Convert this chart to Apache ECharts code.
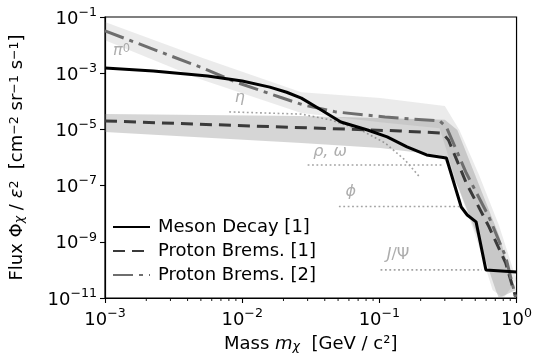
<!DOCTYPE html>
<html><head><meta charset="utf-8">
<script src="https://cdn.jsdelivr.net/npm/echarts@6/dist/echarts.min.js"></script>
<style>html,body{margin:0;padding:0;background:#fff}#c{width:535px;height:360px}</style>
</head><body><div id="c"></div>
<script>
const FONT = 'DejaVu Sans';

// ---- data ----
const seriesNames = ['Meson Decay [1]', 'Proton Brems. [1]', 'Proton Brems. [2]'];

const mesonX = [1e-3, 2.25e-3, 5.6e-3, 1e-2, 1.59e-2, 2.11e-2, 2.7e-2, 3.77e-2, 5.24e-2, 8.2e-2, 0.114, 0.159, 0.221, 0.308, 0.395, 0.437, 0.507, 0.598, 1.0];
const mesonY = [1.53e-3, 1.2e-3, 7.9e-4, 5.3e-4, 3.2e-4, 2.1e-4, 1.3e-4, 4.9e-5, 1.83e-5, 9.5e-6, 5.4e-6, 2.4e-6, 1.23e-6, 9.6e-7, 1.73e-8, 9e-9, 5.1e-9, 1.0e-10, 8.5e-11];

const brems1X = [1e-3, 1.18e-2, 0.1416, 0.288, 0.319, 0.43, 0.63, 0.834, 0.984];
const brems1Y = [2.0e-5, 1.32e-5, 8.8e-6, 7.4e-6, 4.2e-6, 1.24e-7, 3.4e-9, 1.76e-10, 1.09e-11];

const brems2X = [1e-3, 5.15e-3, 8.9e-3, 1.87e-2, 2.79e-2, 4.8e-2, 0.110, 0.275, 0.308, 0.43, 0.63, 0.834, 0.984];
const brems2Y = [3.2e-2, 1.53e-3, 4.9e-4, 1.42e-4, 7.4e-5, 4.2e-5, 2.76e-5, 2.0e-5, 1.22e-5, 2.8e-7, 7.6e-9, 2.9e-10, 1.09e-11];

// uncertainty bands: upper edge and lower edge
const band1UpperX = [1e-3, 0.027, 0.30, 0.37, 0.515, 0.743, 0.984];
const band1UpperY = [3.5e-5, 3.0e-5, 2.2e-5, 9.5e-6, 1.6e-7, 1.75e-9, 1.9e-11];
const band1LowerX = [1e-3, 0.027, 0.1016, 0.275, 0.30, 0.383, 0.515, 0.706, 0.743];
const band1LowerY = [8.1e-6, 3.3e-6, 2.2e-6, 1.2e-6, 8.1e-7, 7e-8, 1.75e-9, 1.9e-11, 1e-11];

const band2UpperX = [1e-3, 5.15e-3, 0.027, 0.1016, 0.30, 0.383, 0.533, 0.743, 1.0];
const band2UpperY = [6.6e-2, 3.5e-3, 2.1e-4, 1.3e-4, 6.8e-5, 9.5e-6, 2.4e-7, 4e-9, 4.4e-11];
const band2LowerX = [1e-3, 5.15e-3, 0.027, 0.1016, 0.275, 0.308, 0.37, 0.50, 0.67, 0.805];
const band2LowerY = [1.5e-2, 5.7e-4, 3.8e-5, 1.8e-5, 1.1e-5, 1.85e-6, 1.05e-7, 1.75e-9, 1.9e-11, 1e-11];

// meson thresholds (dotted guides)
const etaX = [8.05e-3, 2.7e-2, 4.44e-2, 7.3e-2, 0.110, 0.154, 0.197];
const etaY = [4.2e-5, 3.5e-5, 2.16e-5, 9.5e-6, 3.3e-6, 8.1e-7, 2.0e-7];
const rhoX = [0.030, 0.288];
const rhoY = [5.4e-7, 5.4e-7];
const phiX = [0.0507, 0.383];
const phiY = [1.8e-8, 1.8e-8];
const jpsiX = [0.102, 0.56];
const jpsiY = [1.0e-10, 1.0e-10];

// annotation labels
const annotText = ['{i|π}{s|0}', '{i|η}', '{i|ρ, ω}', '{i|ϕ}', '{i|J}/Ψ'];
const annotX = [1.32e-3, 9.6e-3, 4.37e-2, 6.2e-2, 0.137];
const annotY = [6.2e-3, 1.35e-4, 1.57e-6, 5.9e-8, 3.4e-10];

// axes
const xMin = 1e-3, xMax = 1;
const yMin = 1e-11, yMax = 1e-1;
const xMinorTicks = [0.002,0.003,0.004,0.005,0.006,0.007,0.008,0.009,0.02,0.03,0.04,0.05,0.06,0.07,0.08,0.09,0.2,0.3,0.4,0.5,0.6,0.7,0.8,0.9];

// ---- build ----
const zip = (xs, ys) => xs.map((x, i) => [x, ys[i]]);

function powLabel(v) {
  const e = Math.round(Math.log10(v));
  const s = e < 0 ? '−' + (-e) : String(e);
  return '{b|10}{s|' + s + '}';
}
const tickRich = {
  b: { fontSize: 18, fontFamily: FONT, color: '#000', lineHeight: 22, verticalAlign: 'bottom' },
  s: { fontSize: 12.6, fontFamily: FONT, color: '#000', lineHeight: 13, verticalAlign: 'top' }
};

function bandSeries(ux, uy, lx, ly, fill, z) {
  const upper = zip(ux, uy);
  const lower = zip(lx, ly);
  return {
    type: 'custom', coordinateSystem: 'cartesian2d', silent: true, clip: true, z: z,
    data: [[ux[0], uy[0]]],
    renderItem: function (params, api) {
      const pts = upper.map(p => api.coord(p)).concat(lower.slice().reverse().map(p => api.coord(p)));
      return { type: 'polygon', shape: { points: pts }, style: { fill: fill, stroke: null } };
    }
  };
}

function dotted(xs, ys) {
  return {
    type: 'line', data: zip(xs, ys), symbol: 'none', silent: true, z: 1,
    lineStyle: { color: '#a3a3a3', width: 1.6, type: [1.8, 2.6] }
  };
}

const chart = echarts.init(document.getElementById('c'), null, { renderer: 'canvas' });
chart.setOption({
  animation: false,
  backgroundColor: '#fff',
  textStyle: { fontFamily: FONT },
  grid: { left: 101, right: 17, top: 17, bottom: 62, show: true, borderColor: '#000', borderWidth: 1.2, backgroundColor: 'transparent' },
  xAxis: {
    type: 'log', logBase: 10, min: xMin, max: xMax, interval: 1,
    axisLine: { show: true, lineStyle: { color: '#000', width: 1.2 } },
    axisTick: { show: true, inside: false, length: 5, lineStyle: { color: '#000', width: 1.1 } },
    splitLine: { show: false }, minorTick: { show: false },
    axisLabel: { margin: 9, formatter: powLabel, rich: tickRich, color: '#000' },
    name: 'Mass {i|m}{sub|χ}  [GeV / c²]', nameLocation: 'middle', nameGap: 37,
    nameTextStyle: {
      fontSize: 18, fontFamily: FONT, color: '#000',
      rich: {
        i: { fontSize: 18, fontStyle: 'italic', fontFamily: FONT, color: '#000' },
        sub: { fontSize: 12.6, fontStyle: 'italic', fontFamily: FONT, color: '#000', verticalAlign: 'bottom', lineHeight: 12 }
      }
    }
  },
  yAxis: {
    type: 'log', logBase: 10, min: yMin, max: yMax, interval: 2,
    axisLine: { show: true, lineStyle: { color: '#000', width: 1.2 } },
    axisTick: { show: true, inside: false, length: 5, lineStyle: { color: '#000', width: 1.1 } },
    splitLine: { show: false }, minorTick: { show: false },
    axisLabel: { margin: 8, formatter: powLabel, rich: tickRich, color: '#000' },
    name: 'Flux Φ{sub|χ} / {i|ε}{sup|2}  [cm{sup|−2} sr{sup|−1} s{sup|−1}]', nameLocation: 'middle', nameGap: 79,
    nameTextStyle: {
      fontSize: 18, fontFamily: FONT, color: '#000',
      rich: {
        i: { fontSize: 18, fontStyle: 'italic', fontFamily: FONT, color: '#000' },
        sub: { fontSize: 12.6, fontStyle: 'italic', fontFamily: FONT, color: '#000', verticalAlign: 'bottom', lineHeight: 12 },
        sup: { fontSize: 12.6, fontFamily: FONT, color: '#000', verticalAlign: 'top', lineHeight: 12 }
      }
    }
  },
  legend: {
    orient: 'vertical', left: 107, top: 212, itemWidth: 37, itemHeight: 14, itemGap: 4,
    data: seriesNames,
    itemStyle: { opacity: 0, borderWidth: 0 },
    textStyle: { fontSize: 18, fontFamily: FONT, color: '#000', lineHeight: 20, padding: [0, 0, 0, 3] }
  },
  series: [
    dotted(etaX, etaY), dotted(rhoX, rhoY), dotted(phiX, phiY), dotted(jpsiX, jpsiY),
    bandSeries(band2UpperX, band2UpperY, band2LowerX, band2LowerY, 'rgba(120,120,120,0.15)', 2),
    bandSeries(band1UpperX, band1UpperY, band1LowerX, band1LowerY, 'rgba(120,120,120,0.30)', 2),
    {
      name: seriesNames[0], type: 'line', data: zip(mesonX, mesonY), symbol: 'none', z: 5,
      lineStyle: { color: '#000', width: 3 }, itemStyle: { color: '#000' }
    },
    {
      name: seriesNames[1], type: 'line', data: zip(brems1X, brems1Y), symbol: 'none', z: 4,
      lineStyle: { color: '#3a3a3a', width: 3, type: [12, 7] }, itemStyle: { color: '#3a3a3a' }
    },
    {
      name: seriesNames[2], type: 'line', data: zip(brems2X, brems2Y), symbol: 'none', z: 4,
      lineStyle: { color: '#6e6e6e', width: 3, type: [20, 6, 4, 6] }, itemStyle: { color: '#6e6e6e' }
    },
    {
      type: 'scatter', silent: true, z: 6, symbolSize: 1, itemStyle: { color: 'rgba(0,0,0,0)' },
      data: annotText.map((t, i) => ({ value: [annotX[i], annotY[i]], text: t })),
      label: {
        show: true, position: 'inside', formatter: p => p.data.text, color: '#999',
        fontSize: 16, fontFamily: FONT,
        rich: {
          i: { fontSize: 16, fontStyle: 'italic', fontFamily: FONT, color: '#999' },
          s: { fontSize: 11.5, fontFamily: FONT, color: '#999', verticalAlign: 'top', lineHeight: 11 }
        }
      }
    },
    {
      type: 'custom', coordinateSystem: 'cartesian2d', silent: true, clip: false, z: 6,
      data: xMinorTicks.map(v => [v, yMin]),
      renderItem: function (params, api) {
        const p = api.coord([api.value(0), api.value(1)]);
        return { type: 'line', shape: { x1: p[0], y1: p[1], x2: p[0], y2: p[1] + 3 }, style: { stroke: '#000', lineWidth: 0.9 } };
      }
    }
  ]
});
</script>
</body></html>
